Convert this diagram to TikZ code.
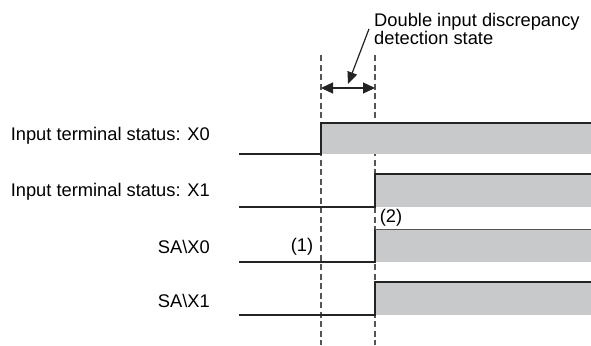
\documentclass[tikz,border=0pt]{standalone}
\usepackage{fontspec}
\setmainfont{Liberation Sans}
\usetikzlibrary{arrows.meta,positioning}
\definecolor{wavefill}{RGB}{200,201,202}
\definecolor{waveline}{RGB}{35,35,35}
\definecolor{guidegray}{RGB}{85,85,85}

\begin{document}
\begin{tikzpicture}[x=1pt, y=-1pt,
    sig/.style={font=\fontsize{18.3}{18.5}\selectfont, anchor=base east, inner sep=0pt},
    note/.style={font=\fontsize{18.3}{18.4}\selectfont, align=left, anchor=north west, inner sep=0pt},
    num/.style={font=\fontsize{18.3}{18.5}\selectfont, inner sep=0pt},
    wave/.style={draw=waveline, line width=1.3pt},
    hi/.style={fill=wavefill},
    guide/.style={draw=guidegray, line width=1.4pt, dash pattern=on 6pt off 3.5pt},
    dim/.style={{Triangle[length=12pt,width=11pt]}-{Triangle[length=12pt,width=11pt]}, line width=1.2pt, waveline},
    lead/.style={-{Triangle[length=12pt,width=10pt]}, line width=1.2pt, waveline}
]
\useasboundingbox (0,0) rectangle (591,345);

% signal names
\node[sig] (x0) at (210,140.7) {Input terminal status: X0};
\node[sig] (x1) at (210,196.7) {Input terminal status: X1};
\node[sig] (sa0) at (210,253) {SA\textbackslash X0};
\node[sig] (sa1) at (210,307) {SA\textbackslash X1};

% dashed time marks
\draw[guide] (321,55) -- (321,345);
\draw[guide] (375,55) -- (375,345);

% X0 rises at (1)
\fill[hi] (321,123) rectangle (591,154);
\draw[wave] (239,154) -- (321,154) -- (321,123) -- (591,123);

% X1, SA\X0, SA\X1 rise at (2)
\fill[hi] (375,174) rectangle (591,207);
\draw[wave] (239,207) -- (375,207) -- (375,174) -- (591,174);
\fill[hi] (375,229) rectangle (591,262);
\draw[wave] (239,262) -- (375,262) -- (375,229);
\draw[draw=guidegray, line width=1pt] (375,229) -- (591,229);
\fill[hi] (375,282) rectangle (591,315);
\draw[wave] (239,315) -- (375,315) -- (375,282) -- (591,282);

\node[num] (p1) at (302,247) {(1)};
\node[num] (p2) at (391,218) {(2)};

% discrepancy window
\coordinate (wl) at (321,88);
\coordinate (wr) at (375,88);
\draw[dim] (wl) -- (wr);

\node[note] (lbl) at (374,12.8) {Double input discrepancy\\detection state};
\coordinate (tip) at (348,84);
\draw[lead] ([xshift=-5pt]lbl.west) -- (tip);
\end{tikzpicture}
\end{document}
